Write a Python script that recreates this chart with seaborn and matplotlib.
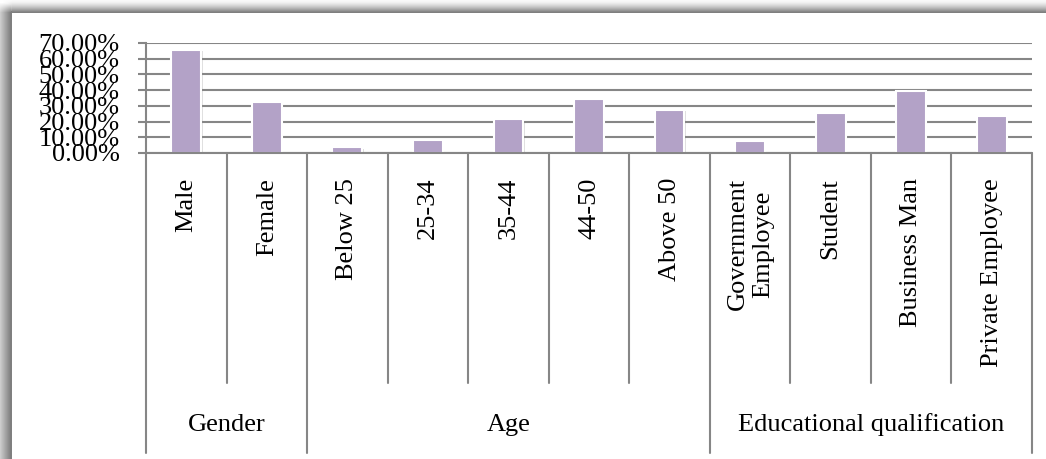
import matplotlib
matplotlib.use("Agg")
import matplotlib.pyplot as plt
import matplotlib.transforms as mtransforms
import matplotlib.patheffects as pe
from matplotlib.ticker import PercentFormatter
import numpy as np
import pandas as pd
import seaborn as sns

# values
categories = ["Male", "Female", "Below 25", "25-34", "35-44", "44-50", "Above 50",
              "Government\nEmployee", "Student", "Business Man", "Private Employee"]
shares = [0.655, 0.327, 0.036, 0.080, 0.215, 0.346, 0.276, 0.074, 0.255, 0.396, 0.236]
groups = ["Gender", "Age", "Educational qualification"]
group_sizes = [2, 5, 4]
yticks = [0, 0.1, 0.2, 0.3, 0.4, 0.5, 0.6, 0.7]

df = pd.DataFrame({"category": categories, "share": shares})

sns.set_theme(style="white")
plt.rcParams["font.family"] = ["Liberation Serif", "DejaVu Serif"]

W, H = 1046, 459
fig = plt.figure(figsize=(W / 100, H / 100), dpi=100)

# soft shadow of the chart frame along the top and left edges
xs = np.arange(W)[None, :]
ys = np.arange(H)[:, None]
fade_y = np.clip((ys - 2) / 10.0, 0, 1)
fade_x = np.clip((xs - 2) / 10.0, 0, 1)
left = np.where(xs < 11, 1 - (0.20 + 0.30 * xs / 10.0) * fade_y, 1.0)
top = np.where(ys < 12, 1 - (0.02 + 0.45 * (ys / 11.0) ** 1.5) * fade_x, 1.0)
bg = np.minimum(left, top)
bg[(ys >= 11) & (xs == 11)] = 0.5
bg[(ys == 12) & (xs >= 11)] = 0.5
alpha = np.where(bg < 1.0, 1.0, 0.0)
fig.figimage(np.dstack([bg, bg, bg, alpha]), xo=0, yo=0, origin="upper",
             zorder=-1)

ax_l, ax_r, ax_t, ax_b = 146, 1032, 43, 153
ax = fig.add_axes([ax_l / W, 1 - ax_b / H, (ax_r - ax_l) / W, (ax_b - ax_t) / H])
ax.set_facecolor("none")

sns.barplot(data=df, x="category", y="share", color="#b3a2c7", width=0.37,
            saturation=1, edgecolor="white", linewidth=1.5, ax=ax, zorder=3)
for bar in ax.patches:
    bar.set_path_effects([pe.SimplePatchShadow(offset=(1, -1), shadow_rgbFace="gray",
                                               alpha=0.25), pe.Normal()])

grid_c = "#868686"
ax.set_ylim(0, 0.7)
ax.set_xlim(-0.5, len(categories) - 0.5)
ax.set_yticks(yticks)
ax.yaxis.set_major_formatter(PercentFormatter(1.0, decimals=2))
ax.yaxis.grid(True, color=grid_c, lw=1.5)
ax.set_axisbelow(True)
for s in ["top", "right", "bottom"]:
    ax.spines[s].set_visible(False)
ax.spines["left"].set_color(grid_c)
ax.spines["left"].set_linewidth(1.5)
ax.tick_params(axis="y", left=True, length=6, width=1.5, color=grid_c,
               labelsize=19, pad=13, labelcolor="black")
ax.set_xlabel("")
ax.set_ylabel("")
ax.set_xticks(range(len(categories)))
ax.set_xticklabels(categories, rotation=90, fontsize=19, multialignment="center")
ax.tick_params(axis="x", bottom=False, length=0, pad=18, labelcolor="black")

# category and group separators under the axis
trans = mtransforms.blended_transform_factory(ax.transData, ax.transAxes)
h = ax_b - ax_t
y_cat = (ax_b - 383) / h
y_grp = (ax_b - 453) / h
ax.plot([-0.5, len(categories) - 0.5], [0, 0], color=grid_c, lw=1.5,
        transform=trans, clip_on=False, zorder=4)
bounds = [-0.5]
for n in group_sizes:
    bounds.append(bounds[-1] + n)
for i in range(len(categories) + 1):
    x = i - 0.5
    y_end = y_grp if x in bounds else y_cat
    ax.plot([x, x], [0, y_end], color=grid_c, lw=1.5, transform=trans,
            clip_on=False)
for g, a, b in zip(groups, bounds[:-1], bounds[1:]):
    ax.text((a + b) / 2, (ax_b - 425) / h, g, transform=trans, ha="center",
            va="center", fontsize=19, color="black")

fig.savefig("out.png", dpi=100)
